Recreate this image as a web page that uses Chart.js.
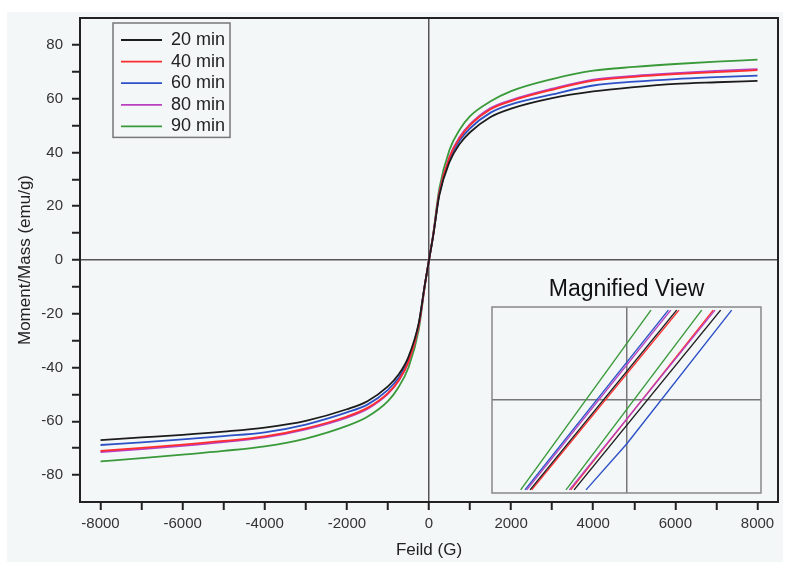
<!DOCTYPE html>
<html>
<head>
<meta charset="utf-8">
<script src="https://cdn.jsdelivr.net/npm/chart.js@4/dist/chart.umd.min.js"></script>
<style>
  body { margin: 0; background: #ffffff; }
  #wrap { position: relative; width: 788px; height: 562px; }
  #panel { position: absolute; left: 7px; top: 12px; width: 776px; height: 550px; background: #f3f7f8; }
  #chart { position: absolute; left: 0; top: 0; }
  #inset { position: absolute; left: 486px; top: 270px; }
</style>
</head>
<body>
<div id="wrap">
  <div id="panel"></div>
  <canvas id="chart" width="788" height="562"></canvas>
  <canvas id="inset" width="282" height="230"></canvas>
</div>
<script>
// field (G) and moment/mass (emu/g)
var fieldG = [-8000, -7000, -6000, -5000, -4000, -3000, -2000, -1500, -1000, -750, -500, -250, -100, 0,
              100, 250, 500, 750, 1000, 1500, 2000, 3000, 4000, 5000, 6000, 7000, 8000];
var m20 = [-67.0, -66.0, -65.0, -63.8, -62.3, -59.8, -55.5, -52.5, -47.0, -42.8, -36.0, -23.5, -9.0, 0,
           8.8, 24.0, 36.5, 43.2, 47.5, 53.2, 56.3, 60.2, 62.7, 64.3, 65.5, 66.1, 66.6];
var m40 = [-71.0, -69.9, -68.7, -67.3, -65.6, -62.6, -58.2, -55.0, -49.5, -45.0, -37.8, -24.4, -9.2, 0,
           9.0, 24.8, 38.2, 45.4, 50.2, 56.1, 59.1, 63.3, 66.7, 68.1, 69.1, 69.9, 70.6];
var m60 = [-68.8, -67.8, -66.7, -65.5, -64.1, -61.2, -56.7, -53.8, -48.3, -44.0, -37.0, -24.0, -9.1, 0,
           9.0, 24.5, 37.5, 44.5, 49.0, 54.8, 57.9, 61.6, 64.9, 66.3, 67.3, 68.0, 68.6];
var m80 = [-71.4, -70.3, -69.1, -67.7, -66.0, -63.0, -58.6, -55.4, -49.8, -45.2, -38.0, -24.5, -9.2, 0,
           9.1, 25.0, 38.5, 45.8, 50.5, 56.5, 59.5, 63.7, 67.1, 68.5, 69.5, 70.3, 71.0];
var m90 = [-74.9, -73.7, -72.4, -71.0, -69.3, -66.4, -61.7, -58.3, -52.5, -47.5, -40.0, -26.0, -9.5, 0,
           9.5, 26.5, 41.0, 48.5, 53.5, 59.0, 62.8, 67.3, 70.4, 71.8, 72.9, 73.8, 74.5];
var seriesNames = ['20 min', '40 min', '60 min', '80 min', '90 min'];

// tick positions (labels only on every other one)
var xTicks = [-8000, -7000, -6000, -5000, -4000, -3000, -2000, -1000, 0, 1000, 2000, 3000, 4000, 5000, 6000, 7000, 8000];
var yTicks = [-80, -70, -60, -50, -40, -30, -20, -10, 0, 10, 20, 30, 40, 50, 60, 70, 80];

// magnified view near the origin (arbitrary zoomed units)
var magM = [-2.9, 2.9];
var magDown20 = [-71.7, 37.3];
var magDown40 = [-70.5, 39.0];
var magDown60 = [-75.5, 31.1];
var magDown80 = [-74.2, 32.9];
var magDown90 = [-78.7, 18.2];
var magUp20 = [-39.0, 70.0];
var magUp40 = [-41.5, 64.5];
var magUp60 = [-30.1, 0.1, 78.2];
var magUpM60 = [-2.9, -1.42, 2.9];
var magUp80 = [-42.5, 65.8];
var magUp90 = [-45.0, 55.9];

var colors = ['#1c1c1c', '#ff2e2e', '#2d50c6', '#b840c0', '#3a9a3a'];

Chart.defaults.font.family = "'Liberation Sans', Arial, sans-serif";
Chart.defaults.color = '#333';

function pts(xs, ys) {
  return xs.map(function (x, i) { return { x: x, y: ys[i] }; });
}

// top + right edges of the plot box
var framePlugin = {
  id: 'frame',
  afterDraw: function (chart, args, opts) {
    var a = chart.chartArea, ctx = chart.ctx;
    ctx.save();
    ctx.strokeStyle = opts.color;
    ctx.lineWidth = opts.width;
    ctx.strokeRect(a.left, a.top, a.right - a.left, a.bottom - a.top);
    ctx.restore();
  }
};

// nudge the legend inside the plot and draw a box round it
var legendBox = {
  id: 'legendBox',
  afterLayout: function (chart) {
    chart.legend.left += 37.4;
    chart.legend.top += 27.4;
  },
  afterDraw: function (chart) {
    var hb = chart.legend.legendHitBoxes;
    if (!hb || !hb.length) return;
    var l = Infinity, t = Infinity, r = -Infinity, b = -Infinity;
    hb.forEach(function (h) {
      l = Math.min(l, h.left); t = Math.min(t, h.top);
      r = Math.max(r, h.left + h.width); b = Math.max(b, h.top + h.height);
    });
    var ctx = chart.ctx;
    ctx.save();
    ctx.strokeStyle = '#777';
    ctx.lineWidth = 1.5;
    ctx.strokeRect(l - 8, t - 8, r - l + 13, b - t + 10);
    ctx.restore();
  }
};

var mainSeries = [m20, m40, m60, m80, m90];
var datasets = mainSeries.map(function (s, i) {
  return {
    label: seriesNames[i],
    data: pts(fieldG, s),
    borderColor: colors[i],
    backgroundColor: colors[i],
    borderWidth: 1.8,
    pointRadius: 0,
    cubicInterpolationMode: 'monotone',
    fill: false
  };
});

function zeroLine(c) { return c.tick && c.tick.value === 0 ? '#555' : 'rgba(0,0,0,0)'; }

new Chart(document.getElementById('chart'), {
  type: 'line',
  data: { datasets: datasets },
  options: {
    responsive: false,
    animation: false,
    devicePixelRatio: 1,
    layout: { padding: { left: 0, top: 15, right: 10, bottom: 0 } },
    plugins: {
      legend: {
        position: 'chartArea',
        align: 'start',
        labels: {
          usePointStyle: true,
          pointStyle: 'line',
          pointStyleWidth: 41,
          padding: 3.6,
          color: '#222',
          font: { size: 18 }
        }
      },
      tooltip: { enabled: false },
      frame: { color: '#222', width: 2 }
    },
    scales: {
      x: {
        type: 'linear',
        min: -8500,
        max: 8500,
        afterFit: function (s) { s.height = 60; },
        afterBuildTicks: function (s) { s.ticks = xTicks.map(function (v) { return { value: v }; }); },
        ticks: {
          autoSkip: false,
          maxRotation: 0,
          padding: 5,
          color: '#333',
          font: { size: 15 },
          callback: function (v) { return v % 2000 === 0 ? String(v) : ''; }
        },
        grid: { color: zeroLine, lineWidth: 1.5, tickColor: '#222', tickWidth: 2, tickLength: 8 },
        border: { color: '#222', width: 2 },
        title: { display: true, text: 'Feild (G)', color: '#222', font: { size: 17 }, padding: { top: 0, bottom: 1 } }
      },
      y: {
        type: 'linear',
        min: -90,
        max: 90,
        afterFit: function (s) { s.width = 80; },
        afterBuildTicks: function (s) { s.ticks = yTicks.map(function (v) { return { value: v }; }); },
        ticks: {
          autoSkip: false,
          padding: 9,
          color: '#333',
          font: { size: 15 },
          callback: function (v) { return v % 20 === 0 ? String(v) : ''; }
        },
        grid: { color: zeroLine, lineWidth: 1.5, tickColor: '#222', tickWidth: 2, tickLength: 8 },
        border: { color: '#222', width: 2 },
        title: { display: true, text: 'Moment/Mass (emu/g)', color: '#222', font: { size: 17 }, padding: { top: 15, bottom: 0 } }
      }
    }
  },
  plugins: [framePlugin, legendBox]
});

// magnified view
var magLines = [
  [magDown90, magM, 4], [magDown60, magM, 2], [magDown80, magM, 3], [magDown20, magM, 0], [magDown40, magM, 1],
  [magUp90, magM, 4], [magUp80, magM, 3], [magUp40, magM, 1], [magUp20, magM, 0], [magUp60, magUpM60, 2]
];
var magSets = magLines.map(function (l) {
  return {
    data: pts(l[0], l[1]),
    borderColor: colors[l[2]],
    borderWidth: 1.4,
    pointRadius: 0,
    fill: false
  };
});

function magZero(c) { return c.tick && c.tick.value === 0 ? '#777' : 'rgba(0,0,0,0)'; }

new Chart(document.getElementById('inset'), {
  type: 'line',
  data: { datasets: magSets },
  options: {
    responsive: false,
    animation: false,
    devicePixelRatio: 1,
    layout: { padding: { left: 6, top: 0, right: 7, bottom: 7 } },
    plugins: {
      legend: { display: false },
      tooltip: { enabled: false },
      title: {
        display: true,
        text: 'Magnified View',
        color: '#111',
        font: { size: 23, weight: 'normal' },
        padding: { top: 6, bottom: 3.4 }
      },
      frame: { color: '#888', width: 1.5 }
    },
    scales: {
      x: {
        type: 'linear', min: -100, max: 100,
        ticks: { display: false, stepSize: 100 },
        grid: { color: magZero, lineWidth: 1.5, drawTicks: false },
        border: { display: false }
      },
      y: {
        type: 'linear', min: -3, max: 3,
        ticks: { display: false, stepSize: 3 },
        grid: { color: magZero, lineWidth: 1.5, drawTicks: false },
        border: { display: false }
      }
    }
  },
  plugins: [framePlugin]
});
</script>
</body>
</html>
